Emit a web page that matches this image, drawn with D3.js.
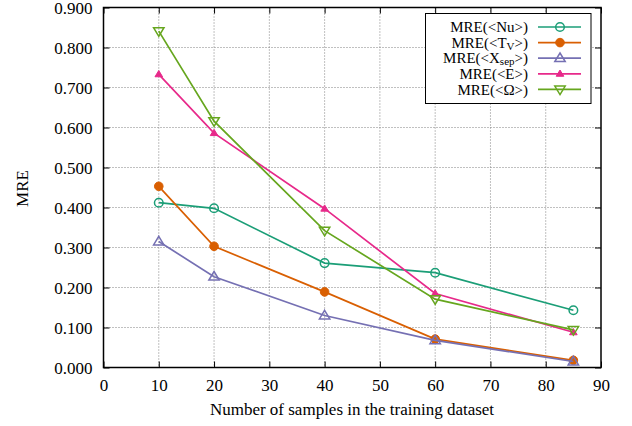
<!DOCTYPE html>
<html>
<head>
<meta charset="utf-8">
<script src="https://cdn.jsdelivr.net/npm/d3@7"></script>
<style>
  html, body { margin: 0; padding: 0; background: #fff; }
  svg { display: block; font-family: "Liberation Serif", "Times New Roman", serif; }
</style>
</head>
<body>
<svg id="chart" width="632" height="426"></svg>
<script>
// Training-set sizes and mean relative errors of each predicted quantity
const samples = [10, 20, 40, 60, 85];
const mreNu    = [0.412, 0.398, 0.261, 0.237, 0.143];
const mreTv    = [0.453, 0.303, 0.189, 0.071, 0.018];
const mreXsep  = [0.315, 0.227, 0.130, 0.068, 0.015];
const mreE     = [0.733, 0.586, 0.397, 0.185, 0.088];
const mreOmega = [0.841, 0.616, 0.342, 0.171, 0.094];

const xTicks = [0, 10, 20, 30, 40, 50, 60, 70, 80, 90];
const yTicks = [0, 0.1, 0.2, 0.3, 0.4, 0.5, 0.6, 0.7, 0.8, 0.9];

const series = [
  { name: "Nu",   sub: null,  values: mreNu,    color: "#1b9e77", marker: "circleOpen" },
  { name: "T",    sub: "V",   values: mreTv,    color: "#d95f02", marker: "circleFilled" },
  { name: "X",    sub: "sep", values: mreXsep,  color: "#7570b3", marker: "triUpOpen" },
  { name: "E",    sub: null,  values: mreE,     color: "#e7298a", marker: "triUpFilled" },
  { name: "Ω",    sub: null,  values: mreOmega, color: "#66a61e", marker: "triDownOpen" }
];

const svg = d3.select("#chart");
const plot = { left: 103.5, right: 601, top: 7.5, bottom: 367.5 };
const fontSize = 17;

const x = d3.scaleLinear().domain([0, 90]).range([plot.left, plot.right]);
const y = d3.scaleLinear().domain([0, 0.9]).range([plot.bottom, plot.top]);

// dotted grid at the inner major ticks
const grid = svg.append("g").attr("stroke", "#808080").attr("stroke-width", 1)
  .attr("stroke-dasharray", "1,2");
xTicks.filter(t => t > 0 && t < 90).forEach(t => {
  grid.append("line").attr("x1", x(t)).attr("x2", x(t))
    .attr("y1", plot.top).attr("y2", plot.bottom);
});
yTicks.filter(t => t > 0 && t < 0.9).forEach(t => {
  grid.append("line").attr("x1", plot.left).attr("x2", plot.right)
    .attr("y1", y(t)).attr("y2", y(t));
});

// axes with inward ticks on all four sides
const tickLen = 6;
const fmt = d3.format(".3f");
const axB = svg.append("g").attr("transform", `translate(0,${plot.bottom})`)
  .call(d3.axisBottom(x).tickValues(xTicks).tickSize(-tickLen).tickPadding(12).tickFormat(d3.format("d")));
const axT = svg.append("g").attr("transform", `translate(0,${plot.top})`)
  .call(d3.axisTop(x).tickValues(xTicks).tickSize(-tickLen).tickFormat(""));
const axL = svg.append("g").attr("transform", `translate(${plot.left},0)`)
  .call(d3.axisLeft(y).tickValues(yTicks).tickSize(-tickLen).tickPadding(11).tickFormat(fmt));
const axR = svg.append("g").attr("transform", `translate(${plot.right},0)`)
  .call(d3.axisRight(y).tickValues(yTicks).tickSize(-tickLen).tickFormat(""));
[axB, axT, axL, axR].forEach(a => {
  a.select(".domain").remove();
  a.selectAll(".tick line").attr("stroke", "#000").attr("stroke-width", 1);
  a.selectAll(".tick text").attr("fill", "#000").attr("font-size", fontSize)
    .attr("font-family", "Liberation Serif, serif");
});
axB.selectAll(".tick text").attr("dy", "0.68em");
axL.selectAll(".tick text").attr("dy", "0.38em");

svg.append("rect").attr("x", plot.left).attr("y", plot.top)
  .attr("width", plot.right - plot.left).attr("height", plot.bottom - plot.top)
  .attr("fill", "none").attr("stroke", "#000").attr("stroke-width", 1.5);

// axis titles
svg.append("text").attr("x", 352).attr("y", 415)
  .attr("text-anchor", "middle").attr("font-size", fontSize).text("Number of samples in the training dataset");
svg.append("text").attr("transform", `translate(28,${(plot.top + plot.bottom) / 2 + 1}) rotate(-90)`)
  .attr("text-anchor", "middle").attr("font-size", fontSize).text("MRE");

// point markers
function drawMarker(g, kind, cx, cy, color) {
  const s = 4.3;
  if (kind === "circleOpen") {
    g.append("circle").attr("cx", cx).attr("cy", cy).attr("r", s)
      .attr("fill", "none").attr("stroke", color).attr("stroke-width", 1.5);
  } else if (kind === "circleFilled") {
    g.append("circle").attr("cx", cx).attr("cy", cy).attr("r", s)
      .attr("fill", color).attr("stroke", color).attr("stroke-width", 1);
  } else if (kind === "triUpOpen") {
    const h = 5.2;
    g.append("path").attr("d", `M${cx},${cy - h} L${cx + h},${cy + h * 0.65} L${cx - h},${cy + h * 0.65}Z`)
      .attr("fill", "none").attr("stroke", color).attr("stroke-width", 1.5);
  } else if (kind === "triUpFilled") {
    const h = 3.8;
    g.append("path").attr("d", `M${cx},${cy - h} L${cx + h},${cy + h * 0.65} L${cx - h},${cy + h * 0.65}Z`)
      .attr("fill", color).attr("stroke", color).attr("stroke-width", 1);
  } else if (kind === "triDownOpen") {
    const h = 5.2;
    g.append("path").attr("d", `M${cx},${cy + h} L${cx + h},${cy - h * 0.65} L${cx - h},${cy - h * 0.65}Z`)
      .attr("fill", "none").attr("stroke", color).attr("stroke-width", 1.5);
  }
}

const line = d3.line().x(d => x(d[0])).y(d => y(d[1]));
series.forEach(s => {
  const pts = samples.map((n, i) => [n, s.values[i]]);
  const g = svg.append("g");
  g.append("path").attr("d", line(pts)).attr("fill", "none")
    .attr("stroke", s.color).attr("stroke-width", 1.7);
  pts.forEach(p => drawMarker(g, s.marker, x(p[0]), y(p[1]), s.color));
});

// legend
const leg = svg.append("g");
leg.append("rect").attr("x", 425.5).attr("y", 13.5).attr("width", 165.5).attr("height", 90)
  .attr("fill", "#fff").attr("stroke", "#000").attr("stroke-width", 1);
series.forEach((s, i) => {
  const ly = 27 + i * 15.6;
  const t = leg.append("text").attr("x", 528).attr("y", ly).attr("dy", "0.35em")
    .attr("text-anchor", "end").attr("font-size", 15);
  t.append("tspan").text("MRE(<" + s.name);
  if (s.sub) {
    t.append("tspan").attr("dy", 2).attr("font-size", 11).text(s.sub);
    t.append("tspan").attr("dy", -2).text(">)");
  } else {
    t.append("tspan").text(">)");
  }
  leg.append("line").attr("x1", 538).attr("x2", 581).attr("y1", ly).attr("y2", ly)
    .attr("stroke", s.color).attr("stroke-width", 1.7);
  drawMarker(leg, s.marker, 560, ly, s.color);
});
</script>
</body>
</html>
